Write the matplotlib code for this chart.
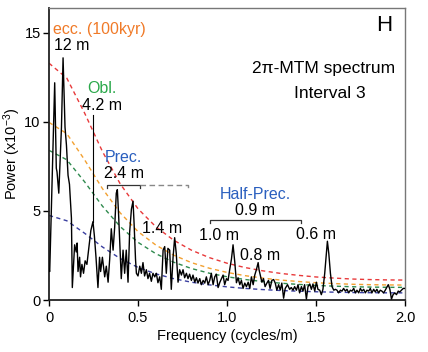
import matplotlib
matplotlib.use("Agg")
import matplotlib.pyplot as plt

plt.rcParams['font.family'] = ['Liberation Sans', 'DejaVu Sans']
plt.rcParams['mathtext.fontset'] = 'custom'
plt.rcParams['mathtext.rm'] = 'Liberation Sans'
plt.rcParams['mathtext.it'] = 'Liberation Sans:italic'

# ---- data: 2pi-MTM spectrum (frequency in cycles/m, power x1e-3) ----
freq = [0.000, 0.004, 0.032, 0.041, 0.045, 0.055, 0.070, 0.079, 0.090, 0.098,
        0.107, 0.115, 0.126, 0.131, 0.144, 0.153, 0.158, 0.163, 0.172, 0.177,
        0.185, 0.194, 0.203, 0.213, 0.220, 0.230, 0.235, 0.247, 0.255, 0.264,
        0.275, 0.284, 0.290, 0.300, 0.313, 0.322, 0.332, 0.341, 0.350, 0.360,
        0.369, 0.378, 0.384, 0.391, 0.397, 0.406, 0.416, 0.425, 0.434, 0.444,
        0.453, 0.463, 0.472, 0.478, 0.486, 0.491, 0.500, 0.510, 0.519, 0.528,
        0.537, 0.547, 0.556, 0.565, 0.575, 0.584, 0.594, 0.603, 0.612, 0.622,
        0.631, 0.641, 0.650, 0.659, 0.668, 0.678, 0.687, 0.697, 0.706, 0.715,
        0.725, 0.734, 0.744, 0.753, 0.762, 0.772, 0.781, 0.790, 0.800, 0.809,
        0.819, 0.828, 0.837, 0.847, 0.856, 0.866, 0.875, 0.884, 0.894, 0.903,
        0.912, 0.922, 0.931, 0.940, 0.950, 0.960, 0.969, 0.978, 0.987, 0.997,
        1.006, 1.015, 1.025, 1.034, 1.044, 1.053, 1.062, 1.072, 1.081, 1.090,
        1.100, 1.109, 1.119, 1.128, 1.137, 1.147, 1.156, 1.165, 1.175, 1.180,
        1.187, 1.196, 1.205, 1.214, 1.224, 1.233, 1.242, 1.252, 1.262, 1.271,
        1.280, 1.290, 1.299, 1.308, 1.318, 1.327, 1.340, 1.352, 1.361, 1.371,
        1.380, 1.390, 1.399, 1.408, 1.418, 1.427, 1.436, 1.446, 1.455, 1.465,
        1.474, 1.483, 1.493, 1.502, 1.511, 1.521, 1.530, 1.539, 1.549, 1.558,
        1.564, 1.572, 1.581, 1.590, 1.600, 1.609, 1.618, 1.627, 1.637, 1.646,
        1.655, 1.665, 1.674, 1.684, 1.693, 1.702, 1.712, 1.721, 1.730, 1.740,
        1.749, 1.758, 1.768, 1.777, 1.786, 1.796, 1.805, 1.814, 1.824, 1.833,
        1.842, 1.852, 1.861, 1.870, 1.880, 1.889, 1.906, 1.915, 1.924, 1.933,
        1.943, 1.952, 1.962, 1.971, 1.980, 1.990, 2.000]
power = [1.7, 1.6, 12.2, 7.4, 7.2, 6.0, 9.7, 13.6, 9.7, 8.7,
         7.0, 6.5, 4.6, 0.7, 3.1, 2.7, 3.2, 1.6, 2.4, 1.3,
         2.0, 1.5, 2.2, 2.0, 2.6, 3.5, 3.9, 4.4, 3.6, 2.4,
         0.7, 2.4, 1.6, 2.4, 1.3, 1.9, 1.0, 2.3, 4.0, 2.8,
         4.1, 6.0, 6.2, 4.8, 3.4, 1.2, 2.8, 1.5, 2.8, 1.0,
         3.8, 5.1, 5.55, 4.3, 2.3, 1.5, 1.35, 1.9, 1.5, 2.1,
         1.35, 1.7, 1.2, 1.5, 1.05, 1.5, 1.3, 1.5, 0.97, 1.3,
         0.6, 2.8, 3.0, 1.5, 2.9, 2.8, 0.6, 2.4, 3.5, 2.6,
         1.0, 1.7, 1.4, 1.7, 1.25, 1.5, 1.2, 1.45, 1.1, 1.4,
         1.0, 1.25, 0.95, 1.2, 0.86, 1.1, 0.95, 1.3, 0.86, 1.1,
         1.5, 0.86, 1.3, 1.45, 0.7, 1.0, 1.2, 1.4, 0.86, 1.2,
         1.1, 1.7, 2.3, 3.1, 2.1, 0.97, 1.25, 0.86, 1.1, 0.65,
         0.95, 0.75, 1.0, 0.65, 1.3, 0.86, 1.4, 1.7, 2.1, 1.7,
         1.4, 1.0, 1.2, 0.75, 0.95, 1.1, 0.65, 1.1, 1.15, 0.95,
         0.56, 0.86, 0.56, 0.95, 0.1, 0.65, 0.86, 0.6, 0.7, 0.55,
         0.75, 0.55, 0.86, 0.4, 0.75, 0.5, 0.86, 0.05, 0.75, 0.9,
         0.6, 0.9, 0.5, 1.0, 0.6, 0.55, 0.3, 0.6, 1.5, 2.6,
         3.3, 2.6, 1.5, 0.75, 0.55, 0.6, 0.55, 0.4, 0.55, 0.5,
         0.65, 0.5, 0.6, 0.4, 0.55, 0.5, 0.65, 0.4, 0.55, 0.4,
         0.65, 0.5, 0.6, 0.4, 0.55, 0.5, 0.65, 0.4, 0.6, 0.45,
         0.6, 0.4, 0.55, 0.5, 0.4, 0.55, 0.86, 0.6, 0.05, 0.3,
         0.4, 0.3, 0.5, 0.45, 0.55, 0.65, 0.65]

# AR(1) red-noise background (mean) and confidence multipliers
bg_freq = [0.0, 0.1, 0.2, 0.3, 0.4, 0.5, 0.6, 0.7, 0.8, 0.9, 1.0,
           1.1, 1.2, 1.3, 1.4, 1.5, 1.6, 1.7, 1.8, 1.9, 2.0]
bg_power = [4.75, 4.45, 3.75, 2.98, 2.33, 1.83, 1.47, 1.20, 1.00, 0.851, 0.738,
            0.652, 0.586, 0.534, 0.495, 0.462, 0.440, 0.421, 0.410, 0.403, 0.400]
conf_names = ['99%', '95%', '90%', 'AR1']
conf_mult = [2.80, 2.10, 1.77, 1.00]
conf_colors = ['#e8393a', '#f2a030', '#2f8a4e', '#3a3fa0']

xticks = [0, 0.5, 1.0, 1.5, 2.0]
xticklabels = ['0', '0.5', '1.0', '1.5', '2.0']
yticks = [0, 5, 10, 15]

fig = plt.figure(figsize=(4.28, 3.52), dpi=100)
ax = fig.add_axes([49/428, 1 - 300/352, (405-49)/428, (300-8)/352])

for name, m, c in zip(conf_names, conf_mult, conf_colors):
    ax.plot(bg_freq, [b * m for b in bg_power], color=c, lw=1.0,
            dashes=(3, 2.5), zorder=2)

ax.plot(freq, power, color='black', lw=1.0, zorder=3)
# 4.2 m obliquity marker line
ax.plot([0.247, 0.247], [4.4, 10.4], color='black', lw=0.8, zorder=3)

ax.set_xlim(0, 2.0)
ax.set_ylim(0, 16.4)
ax.set_xticks(xticks)
ax.set_xticklabels(xticklabels)
ax.set_yticks(yticks)
ax.tick_params(axis='both', direction='out', length=4, width=1, labelsize=10.5,
               colors='black')
ax.tick_params(axis='x', pad=4)
ax.tick_params(axis='y', pad=2)
for s in ['left', 'bottom']:
    ax.spines[s].set_linewidth(1.3)
    ax.spines[s].set_color('#222222')
for s in ['top', 'right']:
    ax.spines[s].set_linewidth(1.0)
    ax.spines[s].set_color('#777777')

ax.set_xlabel('Frequency (cycles/m)', fontsize=10.5)
ax.xaxis.set_label_coords(0.5, -0.10)
ax.set_ylabel(r'Power (x10$^{\mathregular{-3}}$)', fontsize=10.5)
ax.yaxis.set_label_coords(-0.074, 0.5)

fs = 11.5
ax.text(0.02, 15.2, 'ecc. (100kyr)', color='#f07a28', fontsize=fs, ha='left', va='center')
ax.text(0.13, 14.3, '12 m', color='black', fontsize=fs, ha='center', va='center')
ax.text(0.30, 11.9, 'Obl.', color='#2aa84a', fontsize=fs, ha='center', va='center')
ax.text(0.297, 10.9, '4.2 m', color='black', fontsize=fs, ha='center', va='center')
ax.text(0.42, 8.0, 'Prec.', color='#2a5fbf', fontsize=fs, ha='center', va='center')
ax.text(0.42, 7.1, '2.4 m', color='black', fontsize=fs, ha='center', va='center')
ax.text(0.633, 4.0, '1.4 m', color='black', fontsize=fs, ha='center', va='center')
ax.text(1.16, 5.9, 'Half-Prec.', color='#2a5fbf', fontsize=fs, ha='center', va='center')
ax.text(1.16, 5.0, '0.9 m', color='black', fontsize=fs, ha='center', va='center')
ax.text(0.955, 3.6, '1.0 m', color='black', fontsize=fs, ha='center', va='center')
ax.text(1.185, 2.5, '0.8 m', color='black', fontsize=fs, ha='center', va='center')
ax.text(1.5, 3.7, '0.6 m', color='black', fontsize=fs, ha='center', va='center')
ax.text(1.93, 15.4, 'H', color='black', fontsize=16, ha='right', va='center')
ax.text(1.545, 13.0, '2π-MTM spectrum', color='black', fontsize=12.5, ha='center', va='center')
ax.text(1.58, 11.6, 'Interval 3', color='black', fontsize=12.5, ha='center', va='center')

# brackets
tk = 0.15
ax.plot([0.325, 0.325, 0.51, 0.51], [6.45 - tk, 6.45, 6.45, 6.45 - tk], color='#333333', lw=0.9)
ax.plot([0.51, 0.78, 0.78], [6.45, 6.45, 6.45 - tk], color='#888888', lw=1.0, dashes=(4, 2.5))
ax.plot([0.903, 0.903, 1.418, 1.418], [4.48 - tk, 4.48, 4.48, 4.48 - tk], color='#333333', lw=0.9)

fig.savefig('out.png', dpi=100)
